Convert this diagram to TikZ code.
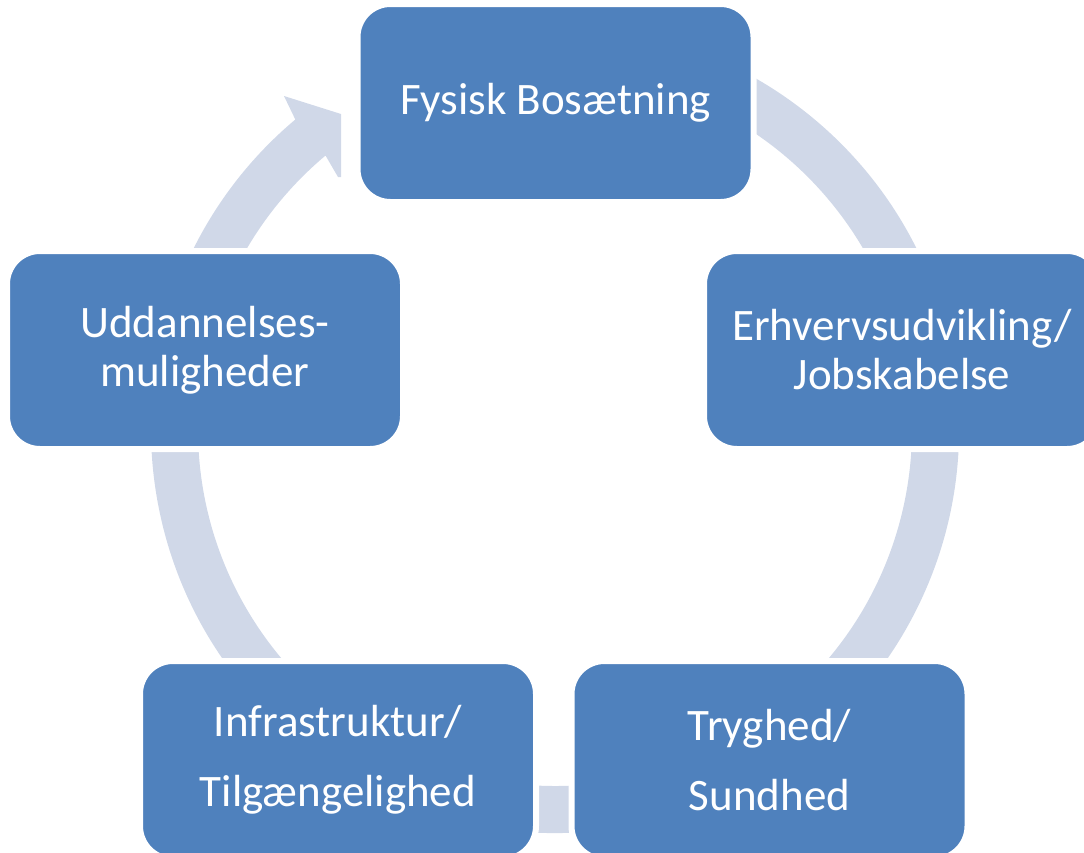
\documentclass[tikz,border=0pt]{standalone}
\usepackage{fontspec}
\setmainfont{Carlito}
\usetikzlibrary{calc}
\definecolor{boxblue}{HTML}{4F81BD}
\definecolor{ringc}{HTML}{D0D8E8}
\begin{document}
\begin{tikzpicture}[x=1pt,y=-1pt,
  box/.style={rectangle, rounded corners=33pt, fill=boxblue, draw=white, line width=6pt,
    inner sep=0pt, outer sep=0pt, text=white, font=\fontsize{45}{49}\selectfont, align=center,
    minimum width=396pt, minimum height=198pt}]
\useasboundingbox (0,0) rectangle (1084,852);
\clip (0,0) rectangle (1084,852);
\coordinate (c) at (555,429);
\coordinate (barbout) at (284,96);
\coordinate (tipa) at (341,114);
\coordinate (tipb) at (341,177);
\coordinate (barbin) at (338,177);
\fill[ringc] ($(c)+(-100:404)$) arc[start angle=-100,end angle=230,radius=404]
  -- (barbout) -- (tipa) -- (tipb) -- (barbin)
  -- ($(c)+(230:357)$) arc[start angle=230,end angle=-100,radius=357] -- cycle;
\node[box] (n1) at (555.5,103) {Fysisk Bosætning};
\node[box] (n2) at (902,350) {Erhvervsudvikling/\\Jobskabelse};
\node[box] (n3) at (769.5,760) {Tryghed/\\[21pt]Sundhed};
\node[box] (n4) at (338,760) {Infrastruktur/\\[21pt]Tilgængelighed};
\node[box] (n5) at (205,350) {Uddannelses-\\muligheder};
\end{tikzpicture}
\end{document}
